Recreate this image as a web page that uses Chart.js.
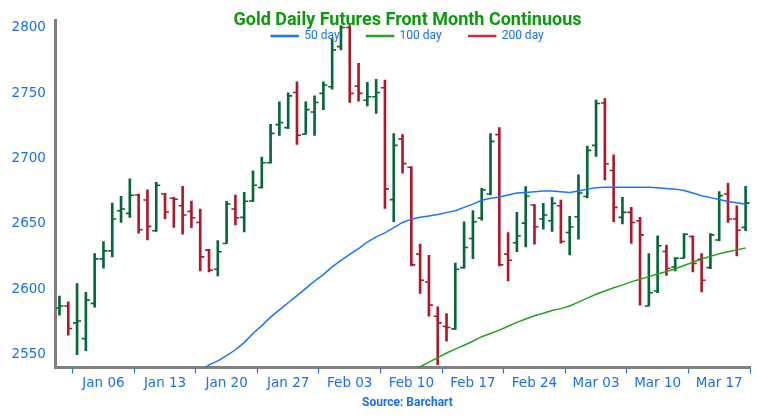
<!DOCTYPE html>
<html>
<head>
<meta charset="utf-8">
<script src="https://cdn.jsdelivr.net/npm/chart.js@4.4.1/dist/chart.umd.min.js"></script>
<style>
  html, body { margin: 0; padding: 0; background: #fff; }
  #wrap { width: 759px; height: 420px; }
</style>
</head>
<body>
<div id="wrap"><canvas id="chart"></canvas></div>
<script>
// daily bars, one per calendar day from Jan 01 (index 0) to Mar 20 (index 78)
const opens = [
  2585.5, 2587, 2574.1, 2562, 2589, 2623.1, 2629.2, 2660, 2657.9, 2672,
  2668.2, 2644.6, 2672.8, 2669.5, 2663.8, 2659.5, 2651, 2629.8, 2615.1, 2634.9,
  2661.3, 2654.9, 2667.4, 2677.7, 2696.7, 2725.9, 2723.6, 2750.5, 2718.5, 2735.6,
  2749.8, 2754.9, 2785.6, 2800.2, 2755.4, 2744.6, 2747.2, 2754.1, 2668.5, 2715,
  2693.3, 2626.7, 2605.4, 2579.2, 2571.3, 2569.5, 2616.4, 2638.7, 2654.4, 2672.8,
  2718.2, 2626.7, 2635.4, 2650.5, 2664.4, 2653.6, 2652.3, 2663.8, 2643.3, 2655.4,
  2670.8, 2710, 2742.5, 2690.8, 2654.9, 2658.7, 2652.3, 2587, 2598.5, 2628.7,
  2616.9, 2623.6, 2640.2, 2622.8, 2616.4, 2637.5, 2672.8, 2653.6, 2647.2
];
const highs = [
  2594.6, 2590.2, 2604.1, 2597.4, 2627.2, 2636.4, 2665.9, 2671, 2684.4, 2672.8,
  2675.9, 2681.8, 2673.3, 2670.2, 2678.7, 2667.4, 2661.3, 2630.5, 2637.2, 2667.2,
  2672, 2674.1, 2690.5, 2701, 2726.2, 2743.3, 2750.2, 2758.7, 2743.3, 2747.9,
  2758.7, 2791.3, 2801.8, 2801.8, 2772.8, 2758.2, 2760.5, 2760, 2719, 2718.2,
  2693.8, 2634.4, 2625.9, 2586.4, 2581.3, 2619.8, 2651.5, 2660, 2677.2, 2719,
  2723.6, 2643.3, 2658.7, 2678.5, 2664.6, 2665.6, 2670.2, 2668.2, 2655.6, 2687.4,
  2709.5, 2744.6, 2745.9, 2702.8, 2670.2, 2662.5, 2654.9, 2627.2, 2640.8, 2633.6,
  2624.1, 2642.5, 2640.8, 2627.2, 2642.5, 2674.6, 2681, 2663.8, 2678.7
];
const lows = [
  2580, 2564.6, 2549.7, 2552.8, 2586.2, 2615.9, 2624.6, 2651, 2654.9, 2642.8,
  2637.7, 2644.1, 2653.6, 2647.2, 2642.1, 2647, 2613.8, 2613.1, 2610, 2634.9,
  2649, 2643.8, 2667, 2677.2, 2696.4, 2717.7, 2722.8, 2710.8, 2718.5, 2717.7,
  2737.4, 2753.1, 2783.1, 2742.8, 2743.8, 2740.2, 2734.4, 2661.8, 2651.5, 2688.7,
  2617.7, 2596.7, 2579.2, 2542, 2560, 2569, 2615.9, 2623.3, 2652.8, 2672,
  2617.7, 2606.2, 2628.7, 2632.3, 2634.4, 2645.9, 2644.1, 2635.2, 2626.2, 2638.2,
  2669.8, 2701.5, 2683.6, 2651.5, 2649.8, 2634.9, 2587.7, 2587, 2597.2, 2610.5,
  2613.8, 2623.6, 2613.1, 2597.7, 2615.6, 2636.9, 2651, 2625.4, 2644.6
];
const closes = [
  2587, 2569.8, 2575.5, 2591.5, 2623.1, 2629.2, 2653.6, 2661.3, 2671.8, 2645.4,
  2648, 2679.5, 2659, 2668.7, 2656.7, 2654.6, 2624.6, 2614.4, 2628.5, 2665.1,
  2654.6, 2667.2, 2679.5, 2696.7, 2719.2, 2727.5, 2747.9, 2717.7, 2737.4, 2742.8,
  2756.2, 2783.1, 2800.2, 2749.8, 2749.8, 2747.2, 2750.5, 2676.7, 2710, 2696,
  2618.5, 2606.7, 2587.7, 2574.1, 2570.5, 2615.1, 2631.8, 2651.5, 2675.9, 2713.1,
  2618.5, 2622.1, 2640.8, 2671, 2647.7, 2656.7, 2665.6, 2636.4, 2647.5, 2673.5,
  2706.2, 2742.1, 2695.9, 2662.5, 2658.7, 2651, 2641.5, 2597.2, 2633.1, 2615.9,
  2623.6, 2642, 2619.5, 2606.7, 2641.5, 2671.5, 2653.6, 2645, 2665.8
];

// moving averages (null where below the visible range)
const ma50 = [
  null, null, null, null, null, null, null, null, null, null,
  null, null, null, null, null, null, 2537, 2542, 2545, 2549,
  2553.5, 2559, 2566, 2572, 2578.5, 2584, 2589.5, 2595, 2600.5, 2606,
  2611, 2617, 2622, 2626.5, 2631, 2636, 2640, 2643, 2647, 2651,
  2653.5, 2655, 2656, 2657, 2658.5, 2660, 2662.5, 2665, 2668, 2669.5,
  2670.5, 2672, 2673.5, 2674, 2674.5, 2675, 2675, 2674.5, 2674, 2675,
  2676.5, 2677.5, 2678, 2678, 2678, 2678, 2678, 2678, 2677.5, 2677,
  2676.5, 2675.5, 2673.5, 2671.5, 2670, 2668.5, 2667, 2666, 2665
];
const ma100 = [
  null, null, null, null, null, null, null, null, null, null,
  null, null, null, null, null, null, null, null, null, null,
  null, null, null, null, null, null, null, null, null, null,
  null, null, null, null, null, null, null, null, null, null,
  2538, 2540.5, 2544, 2547.5, 2551, 2554, 2557, 2560, 2563.5, 2566,
  2568.5, 2571.5, 2574.5, 2577, 2579.5, 2581.5, 2583.5, 2585, 2587, 2590,
  2593, 2596, 2598.5, 2601, 2603, 2605.5, 2607.5, 2609.5, 2611.5, 2613.5,
  2615.5, 2618, 2620.5, 2623, 2625, 2627, 2628.5, 2630, 2631.5
];
const ma200 = []; // off the bottom of the chart

const tickIdx = [5, 12, 19, 26, 33, 40, 47, 54, 61, 68, 75];
const tickLabels = ['Jan 06', 'Jan 13', 'Jan 20', 'Jan 27', 'Feb 03', 'Feb 10',
                    'Feb 17', 'Feb 24', 'Mar 03', 'Mar 10', 'Mar 17'];
const yTicks = [2550, 2600, 2650, 2700, 2750, 2800];

const UP = '#07663a';
const DOWN = '#ad1a2b';
const BLUE = '#1a6ff0';

const isUp = i => closes[i] >= opens[i];
const toPoints = arr => arr.map((v, i) => ({ x: i, y: v }));

// open tick on the left, close tick on the right
const ohlcTicks = {
  id: 'ohlcTicks',
  afterDatasetsDraw(chart) {
    const { ctx, chartArea, scales: { x, y } } = chart;
    ctx.save();
    ctx.beginPath();
    ctx.rect(chartArea.left, chartArea.top, chartArea.width, chartArea.height);
    ctx.clip();
    ctx.lineWidth = 1.6;
    opens.forEach((o, i) => {
      const px = x.getPixelForValue(i);
      const po = y.getPixelForValue(o);
      const pc = y.getPixelForValue(closes[i]);
      ctx.strokeStyle = isUp(i) ? UP : DOWN;
      ctx.beginPath();
      ctx.moveTo(px - 4, po); ctx.lineTo(px, po);
      ctx.moveTo(px, pc); ctx.lineTo(px + 4, pc);
      ctx.stroke();
    });
    ctx.restore();
  }
};

// legend sits inside the plot; title, legend and source centred from the plot's left edge to the canvas edge
const placeBoxes = {
  id: 'placeBoxes',
  beforeInit(chart) {
    const fit = chart.legend.fit;
    chart.legend.fit = function () { fit.call(this); this.height = 0; };
  },
  afterLayout(chart) {
    const left = chart.chartArea.left, right = chart.width;
    chart.boxes.forEach(b => {
      if (b === chart.legend || b === chart.titleBlock ||
          (b.options && b.options.text === 'Source: Barchart')) {
        b.left = left; b.right = right;
      }
    });
    chart.legend.top = 3;
    chart.legend.bottom = 60;
  }
};

new Chart(document.getElementById('chart'), {
  data: {
    datasets: [
      {
        type: 'line', label: '50 day', data: toPoints(ma50),
        borderColor: '#1a74ff', backgroundColor: '#1a74ff',
        borderWidth: 1.5, pointRadius: 0
      },
      {
        type: 'line', label: '100 day', data: toPoints(ma100),
        borderColor: '#22a322', backgroundColor: '#22a322',
        borderWidth: 1.5, pointRadius: 0
      },
      {
        type: 'line', label: '200 day', data: toPoints(ma200),
        borderColor: '#e0203c', backgroundColor: '#e0203c',
        borderWidth: 1.5, pointRadius: 0
      },
      {
        type: 'bar', label: 'OHLC',
        data: opens.map((o, i) => ({ x: i, y: [lows[i], highs[i]] })),
        backgroundColor: c => isUp(c.dataIndex) ? UP : DOWN,
        barThickness: 2,
        borderWidth: 0
      }
    ]
  },
  options: {
    responsive: true,
    maintainAspectRatio: false,
    animation: false,
    layout: { padding: { left: 1.6, right: 9, top: 0, bottom: 0 } },
    plugins: {
      title: {
        display: true,
        text: 'Gold Daily Futures Front Month Continuous',
        color: '#0c9a0c',
        fullSize: false,
        font: { family: 'Roboto', size: 18, weight: 'bold' },
        padding: { top: 10, bottom: -11.6 }
      },
      subtitle: {
        display: true,
        position: 'bottom',
        text: 'Source: Barchart',
        color: BLUE,
        fullSize: false,
        font: { family: 'Roboto', size: 12, weight: 'bold' },
        padding: { top: 2, bottom: 10 }
      },
      legend: {
        display: true,
        position: 'top',
        fullSize: false,
        labels: {
          filter: item => item.datasetIndex < 3,
          boxWidth: 27,
          boxHeight: 1,
          padding: 27,
          color: BLUE,
          font: { family: 'Roboto', size: 12 }
        }
      },
      tooltip: { enabled: false }
    },
    scales: {
      x: {
        type: 'linear',
        offset: false,
        min: -0.4,
        max: 78.5,
        afterBuildTicks: axis => { axis.ticks = tickIdx.map(v => ({ value: v })); },
        ticks: {
          callback: v => tickLabels[tickIdx.indexOf(v)],
          color: BLUE,
          font: { family: 'DejaVu Sans', size: 13.5 },
          padding: 2,
          maxRotation: 0,
          autoSkip: false
        },
        grid: { drawOnChartArea: false, drawTicks: true, tickLength: 6, tickColor: BLUE, tickWidth: 1.2 },
        border: { display: true, color: '#808080', width: 3 }
      },
      y: {
        min: 2540,
        max: 2806,
        afterBuildTicks: axis => { axis.ticks = yTicks.map(v => ({ value: v })); },
        ticks: {
          callback: v => String(v),
          color: BLUE,
          font: { family: 'DejaVu Sans', size: 13.5 },
          padding: 10
        },
        grid: { display: false, drawTicks: false },
        border: { display: true, color: '#808080', width: 3 }
      }
    }
  },
  plugins: [ohlcTicks, placeBoxes]
});
</script>
</body>
</html>
